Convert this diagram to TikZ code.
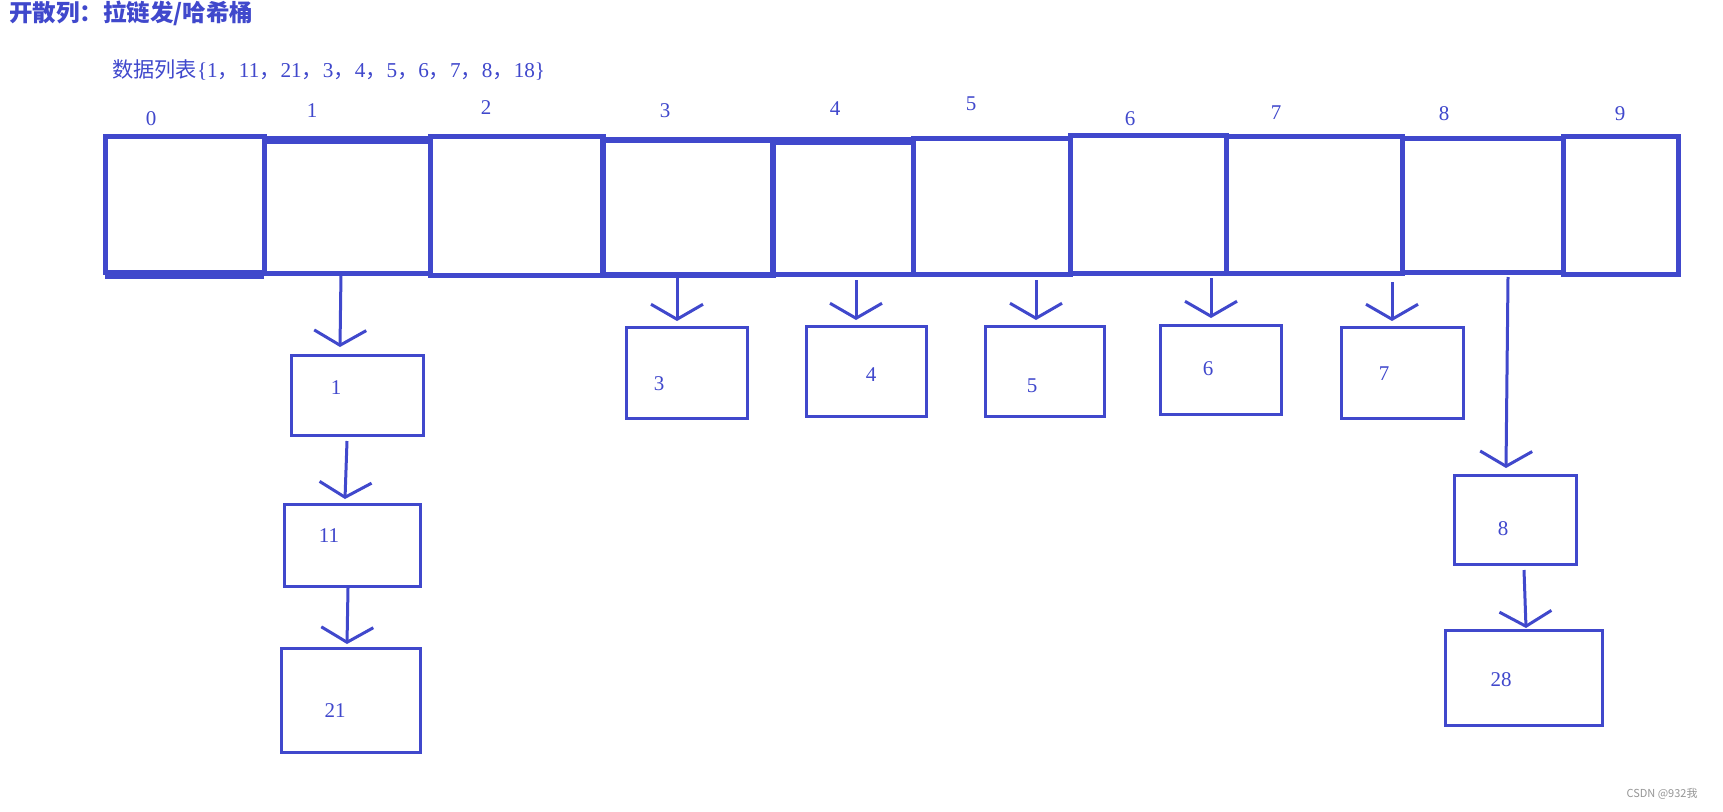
\documentclass[tikz,border=0pt]{standalone}
\usepackage{fontspec}
\setmainfont{Liberation Serif}
\newfontfamily\cjk{Noto Sans CJK SC}
\usetikzlibrary{arrows.meta}
\definecolor{ink}{RGB}{64,72,204}
\definecolor{wm}{RGB}{150,150,150}
\newcommand\fc{{\cjk ，}}
\begin{document}
\begin{tikzpicture}[x=1pt,y=-1pt,
  cell/.style={draw=ink, line width=5pt, rectangle, inner sep=0pt, outer sep=0pt},
  box/.style={draw=ink, line width=3pt, rectangle, inner sep=0pt, outer sep=0pt},
  idx/.style={text=ink, font=\fontsize{21}{24}\selectfont, inner sep=0pt},
  val/.style={text=ink, font=\fontsize{21}{24}\selectfont, inner sep=0pt},
  arr/.style={draw=ink, line width=3pt, -{Straight Barb[length=15pt,width=52pt]}},
]
\fill[white] (0,0) rectangle (1723,811);
\useasboundingbox (0,0) rectangle (1723,811);

% titles
\node[anchor=west, inner sep=0pt, text=ink, font=\fontsize{23.5}{27}\selectfont\cjk\bfseries] (title) at (9,13) {开散列：拉链发/哈希桶};
\node[anchor=west, inner sep=0pt, text=ink, font=\fontsize{21.2}{24}\selectfont] (list) at (112,70)
  {{\cjk 数据列表}\{1\fc 11\fc 21\fc 3\fc 4\fc 5\fc 6\fc 7\fc 8\fc 18\}};

% bucket array
\node[cell, minimum width=159pt, minimum height=136pt] (c0) at (184.5,204) {};
\node[cell, minimum width=166pt, minimum height=135pt] (c1) at (347,205.5) {};
\node[cell, minimum width=173pt, minimum height=139pt] (c2) at (516.5,205.5) {};
\node[cell, line width=6.5pt, minimum width=170pt, minimum height=135pt] (c3) at (688,207.5) {};
\node[cell, minimum width=140pt, minimum height=135pt] (c4) at (843,206.5) {};
\node[cell, minimum width=157pt, minimum height=136pt] (c5) at (991.5,206) {};
\node[cell, minimum width=156pt, minimum height=138pt] (c6) at (1148,204) {};
\node[cell, minimum width=176pt, minimum height=137pt] (c7) at (1314,204.5) {};
\node[cell, minimum width=161pt, minimum height=134pt] (c8) at (1482.5,205) {};
\node[cell, minimum width=115pt, minimum height=138pt] (c9) at (1620.5,205) {};
\draw[ink, line width=9pt] ([yshift=-2pt]c0.south west) -- ([yshift=-2pt]c0.south east);
\draw[ink, line width=8pt] ([yshift=-1.5pt]c1.north west) -- ([yshift=-1.5pt]c1.north east);
\draw[ink, line width=8pt] ([yshift=-1.5pt]c4.north west) -- ([yshift=-1.5pt]c4.north east);

% index labels
\node[idx] (i0) at (151,119) {0};
\node[idx] (i1) at (312,111) {1};
\node[idx] (i2) at (486,108) {2};
\node[idx] (i3) at (665,111) {3};
\node[idx] (i4) at (835,109) {4};
\node[idx] (i5) at (971,104) {5};
\node[idx] (i6) at (1130,119) {6};
\node[idx] (i7) at (1276,113) {7};
\node[idx] (i8) at (1444,114) {8};
\node[idx] (i9) at (1620,114) {9};

% chain nodes
\node[box, minimum width=132pt, minimum height=80pt] (b1) at (357,395) {};
\node[box, minimum width=136pt, minimum height=82pt] (b11) at (352,545) {};
\node[box, minimum width=139pt, minimum height=104pt] (b21) at (350.5,700) {};
\node[box, minimum width=121pt, minimum height=91pt] (b3) at (686.5,372.5) {};
\node[box, minimum width=120pt, minimum height=90pt] (b4) at (866,371) {};
\node[box, minimum width=119pt, minimum height=90pt] (b5) at (1044.5,371) {};
\node[box, minimum width=121pt, minimum height=89pt] (b6) at (1220.5,369.5) {};
\node[box, minimum width=122pt, minimum height=91pt] (b7) at (1402,372.5) {};
\node[box, minimum width=122pt, minimum height=89pt] (b8) at (1515,519.5) {};
\node[box, minimum width=157pt, minimum height=95pt] (b28) at (1523.5,677.5) {};

% values
\node[val] (t1) at (336,388) {1};
\node[val] (t11) at (329,536) {11};
\node[val] (t21) at (335,711) {21};
\node[val] (t3) at (659,384) {3};
\node[val] (t4) at (871,375) {4};
\node[val] (t5) at (1032,386) {5};
\node[val] (t6) at (1208,369) {6};
\node[val] (t7) at (1384,374) {7};
\node[val] (t8) at (1503,529) {8};
\node[val] (t28) at (1501,680) {28};

% connectors
\draw[arr] ([xshift=-6pt]c1.south) -- ([xshift=-17pt,yshift=8pt]b1.north);
\draw[arr] ([xshift=-10pt,yshift=-6pt]b1.south) -- ([xshift=-7pt,yshift=5pt]b11.north);
\draw[arr] ([xshift=-4pt,yshift=-2pt]b11.south) -- ([xshift=-3.5pt,yshift=4pt]b21.north);
\draw[arr] ([xshift=-11pt,yshift=-2pt]c3.south) -- ([xshift=-9.5pt,yshift=6pt]b3.north);
\draw[arr] ([xshift=13pt,yshift=-6pt]c4.south) -- ([xshift=-10pt,yshift=6pt]b4.north);
\draw[arr] ([xshift=44.5pt,yshift=-6pt]c5.south) -- ([xshift=-8.5pt,yshift=6pt]b5.north);
\draw[arr] ([xshift=63pt,yshift=-5pt]c6.south) -- ([xshift=-9.5pt,yshift=7pt]b6.north);
\draw[arr] ([xshift=78pt,yshift=-9pt]c7.south) -- ([xshift=-10pt,yshift=6pt]b7.north);
\draw[arr] ([xshift=25.5pt,yshift=-5pt]c8.south) -- ([xshift=-9pt,yshift=7pt]b8.north);
\draw[arr] ([xshift=9pt,yshift=-6pt]b8.south) -- ([xshift=2.5pt,yshift=2pt]b28.north);

% watermark
\node[text=wm, inner sep=0pt, font=\fontsize{11}{13}\selectfont\cjk] (wmk) at (1662,794) {CSDN @932我};
\end{tikzpicture}
\end{document}
